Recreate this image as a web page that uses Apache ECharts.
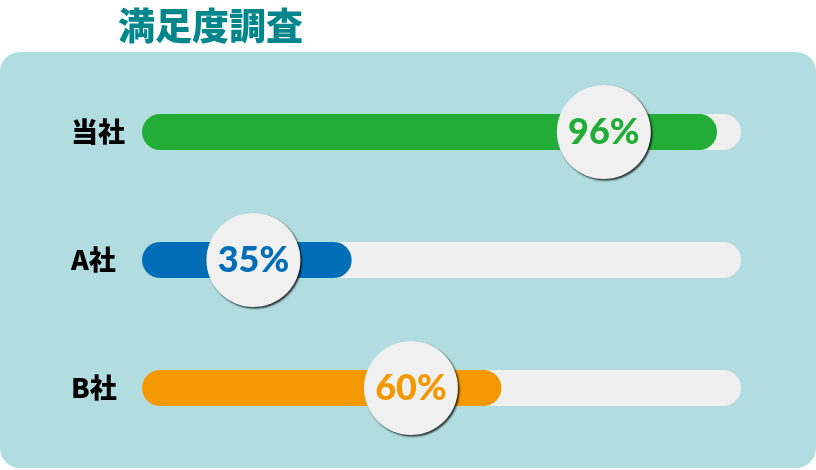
<!DOCTYPE html>
<html>
<head>
<meta charset="utf-8">
<script src="https://cdn.jsdelivr.net/npm/echarts@6/dist/echarts.min.js"></script>
<style>
html,body{margin:0;padding:0;background:#fff;}
#main{width:816px;height:470px;}
</style>
</head>
<body>
<div id="main"></div>
<script>
var companies = ['当社', 'A社', 'B社'];
var scores = [96, 35, 60];
// where the round badges sit on the bar
var badgePos = [77.1, 18.6, 44.9];
var colors = ['#22ac38', '#036eb8', '#f39800'];

var init = function(){
	var myChart = echarts.init(document.getElementById('main'));

	var barData = scores.map(function(v, i){
		return {value: v, itemStyle: {color: colors[i]}};
	});
	var badgeData = badgePos.map(function(p, i){
		return {
			value: [p, companies[i]],
			label: {color: colors[i], formatter: scores[i] + '%'}
		};
	});

	var option = {
		animation: false,
		title: {
			text: '満足度調査',
			left: 113,
			top: 2,
			textStyle: {
				fontFamily: 'Noto Sans CJK JP',
				fontSize: 37,
				fontWeight: 900,
				color: '#00868b'
			}
		},
		graphic: [{
			type: 'rect',
			z: -10,
			shape: {x: 0, y: 52, width: 816, height: 416, r: 20},
			style: {fill: '#b1dde0'}
		}],
		grid: {left: 142, right: 75, top: 68, bottom: 18},
		xAxis: {
			type: 'value',
			min: 0,
			max: 100,
			show: false
		},
		yAxis: {
			type: 'category',
			inverse: true,
			data: companies,
			axisLine: {show: false},
			axisTick: {show: false},
			axisLabel: {
				margin: 71,
				align: 'left',
				fontFamily: 'Noto Sans CJK JP',
				fontSize: 27,
				fontWeight: 900,
				color: '#000'
			}
		},
		series: [
			{
				type: 'bar',
				barWidth: 36,
				data: barData,
				itemStyle: {borderRadius: 18},
				showBackground: true,
				backgroundStyle: {color: '#efefef', borderRadius: 18}
			},
			{
				type: 'scatter',
				z: 5,
				symbol: 'circle',
				symbolSize: 94,
				data: badgeData,
				itemStyle: {
					color: '#f0f0f0',
					opacity: 1,
					shadowColor: 'rgba(0,0,0,0.8)',
					shadowBlur: 2,
					shadowOffsetX: 1.5,
					shadowOffsetY: 1.5
				},
				label: {
					show: true,
					position: 'inside',
					fontFamily: 'Lato',
					fontWeight: 900,
					fontSize: 36
				},
				emphasis: {disabled: true}
			}
		]
	};
	myChart.setOption(option);
}

init();
</script>
</body>
</html>
